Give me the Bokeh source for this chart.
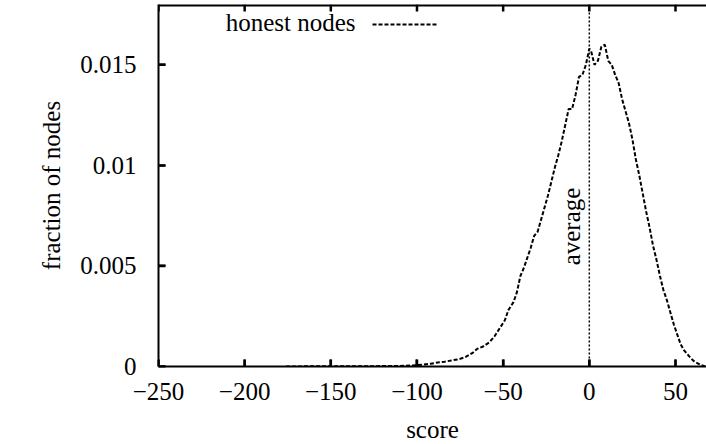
import math
from bokeh.plotting import figure
from bokeh.models import (FixedTicker, Range1d, Label, Arrow, Span, NumeralTickFormatter)
from bokeh.embed import file_html
from bokeh.resources import INLINE

# ---- data ----
score = [-176, -160, -140, -120, -110, -104, -100, -96, -92, -88, -84, -80, -76, -72,
         -68, -65, -62, -58, -55, -52, -49, -47, -44, -42, -40, -38, -36, -34, -32,
         -30, -28, -26, -24, -22, -20, -18, -16, -14, -12, -10, -8, -6, -4, -2, 0,
         1, 3, 5, 7, 9, 11, 13, 15, 17, 19, 21, 23, 25, 27, 29, 31, 33, 35, 37, 39,
         41, 43, 45, 47, 49, 51, 53, 55, 57, 59, 61, 63, 65, 67]
fraction = [0.0, 0.00001, 0.00001, 0.00002, 0.00003, 0.00005, 0.00007, 0.0001, 0.00014,
            0.0002, 0.00024, 0.0003, 0.00036, 0.00046, 0.00066, 0.00088, 0.00098,
            0.0012, 0.0015, 0.0019, 0.0023, 0.0028, 0.0032, 0.0037, 0.0045, 0.0049,
            0.0054, 0.0059, 0.0065, 0.0067, 0.0073, 0.0079, 0.0085, 0.0092, 0.0099,
            0.0105, 0.0112, 0.0120, 0.0128, 0.0128, 0.0135, 0.0144, 0.0145, 0.0150,
            0.0158, 0.0157, 0.0150, 0.0152, 0.0159, 0.0160, 0.0152, 0.0150, 0.0145,
            0.0141, 0.0133, 0.0127, 0.0121, 0.0113, 0.0103, 0.0095, 0.0086, 0.0077,
            0.0069, 0.0060, 0.0053, 0.0045, 0.0038, 0.0033, 0.0027, 0.0021, 0.0016,
            0.0011, 0.0008, 0.0006, 0.0004, 0.00025, 0.00015, 0.00007, 0.00002]
avg_score = 0
series_name = "honest nodes"
x_ticks = [-250, -200, -150, -100, -50, 0, 50]
y_ticks = [0, 0.005, 0.01, 0.015]
x_min, x_max = -250, 68
y_min, y_max = 0, 0.018

FONT = "Liberation Serif"
FS = "25px"
FRAME_W, FRAME_H = 548, 362
TICK_PX = 7

p = figure(frame_width=FRAME_W, frame_height=FRAME_H, output_backend="svg",
           toolbar_location=None, x_range=Range1d(x_min, x_max),
           y_range=Range1d(y_min, y_max),
           min_border_left=158, min_border_right=0, min_border_top=4,
           min_border_bottom=78, background_fill_color="white",
           border_fill_color="white")
p.grid.visible = False
p.outline_line_color = None

line_r = p.line(score, fraction, line_color="black", line_width=2, line_dash="4 2")

for ax in (p.xaxis[0], p.yaxis[0]):
    ax.axis_line_color = "black"
    ax.axis_line_width = 2
    ax.major_tick_line_color = "black"
    ax.major_tick_line_width = 2
    ax.major_tick_in = TICK_PX
    ax.major_tick_out = 0
    ax.minor_tick_in = 0
    ax.minor_tick_out = 0
    ax.major_label_text_font = FONT
    ax.major_label_text_font_size = FS
    ax.major_label_text_color = "black"
    ax.axis_label_text_font = FONT
    ax.axis_label_text_font_size = FS
    ax.axis_label_text_font_style = "normal"
    ax.axis_label_text_color = "black"

p.xaxis.ticker = FixedTicker(ticks=x_ticks)
p.yaxis.ticker = FixedTicker(ticks=y_ticks)
p.yaxis.formatter = NumeralTickFormatter(format="0.[000]")
p.xaxis.axis_label = "score"
p.yaxis.axis_label = "fraction of nodes"
p.xaxis.major_label_standoff = 16
p.xaxis.axis_label_standoff = 13
p.yaxis.major_label_standoff = 22
p.yaxis.axis_label_standoff = 12

# top border (right border falls outside the picture in the reference)
p.add_layout(Span(location=y_max, dimension="width", line_color="black", line_width=4))

# inward tick marks (gnuplot style, mirrored on top)
dx = TICK_PX * (x_max - x_min) / FRAME_W
dy = TICK_PX * (y_max - y_min) / FRAME_H
p.segment(x0=x_ticks, y0=[y_min] * len(x_ticks), x1=x_ticks,
          y1=[y_min + dy] * len(x_ticks), line_color="black", line_width=2.5)
p.segment(x0=x_ticks, y0=[y_max] * len(x_ticks), x1=x_ticks,
          y1=[y_max - dy] * len(x_ticks), line_color="black", line_width=2.5)
p.segment(x0=[x_min] * len(y_ticks), y0=y_ticks, x1=[x_min + dx] * len(y_ticks),
          y1=y_ticks, line_color="black", line_width=2.5)

# average marker
p.add_layout(Arrow(end=None, x_start=avg_score, y_start=-0.0008, x_end=avg_score,
                   y_end=y_max, line_color="black", line_width=1.5, line_dash="2 2"))
p.add_layout(Label(x=avg_score, y=140, y_units="screen", x_offset=-18,
                   angle=math.pi / 2, text="average", text_align="center",
                   text_baseline="middle", text_font=FONT, text_font_size=FS,
                   text_color="black"))

# key: text then line sample (gnuplot style)
p.add_layout(Label(x=197, y=FRAME_H - 18, x_units="screen", y_units="screen",
                   text=series_name, text_align="right", text_baseline="middle",
                   text_font=FONT, text_font_size=FS, text_color="black"))
p.add_layout(Arrow(end=None, x_start=214, y_start=FRAME_H - 20, x_end=280,
                   y_end=FRAME_H - 20, start_units="screen", end_units="screen",
                   line_color="black", line_width=2, line_dash="4 2"))

open("out.html", "w").write(file_html(p, INLINE))
